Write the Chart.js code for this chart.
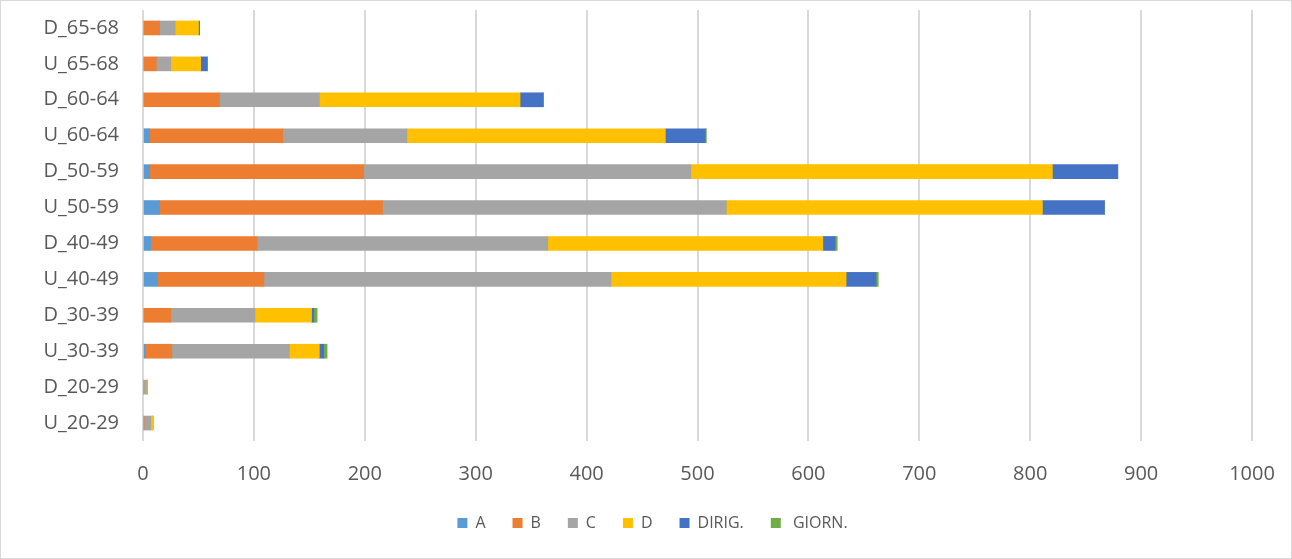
<!DOCTYPE html>
<html>
<head>
<meta charset="utf-8">
<script src="https://cdn.jsdelivr.net/npm/chart.js@4/dist/chart.umd.min.js"></script>
<style>
    html, body { margin: 0; padding: 0; background: #fff; }
    #wrap { position: relative; width: 1292px; height: 559px; box-sizing: border-box; border: 1px solid #d9d9d9; }
</style>
</head>
<body>
<div id="wrap"><canvas id="bar-chart" width="1290" height="557"></canvas></div>
<script>
// categories, top to bottom
var categories = ['D_65-68', 'U_65-68', 'D_60-64', 'U_60-64', 'D_50-59', 'U_50-59',
                  'D_40-49', 'U_40-49', 'D_30-39', 'U_30-39', 'D_20-29', 'U_20-29'];

// series values
var valuesA     = [0, 0, 0, 6, 6, 15, 7, 13, 0, 2, 0, 0];
var valuesB     = [15, 12, 69, 120, 193, 201, 96, 96, 25, 24, 0, 1];
var valuesC     = [14, 13, 90, 112, 295, 310, 262, 313, 76, 106, 3, 6];
var valuesD     = [21, 27, 181, 233, 326, 285, 248, 212, 51, 27, 1, 2];
var valuesDirig = [1, 6, 21, 36, 59, 56, 11, 27, 2, 4, 0, 0];
var valuesGiorn = [0, 0, 0, 1, 0, 0, 2, 2, 3, 3, 0, 0];

var seriesNames = ['A', 'B', 'C', 'D', 'DIRIG.', ' GIORN.'];

// x axis ticks
var xMin = 0;
var xMax = 1000;
var xStep = 100;

document.addEventListener("DOMContentLoaded", function() {
    var ctx = document.getElementById('bar-chart').getContext('2d');
    var textColor = '#595959';
    var font = "'Open Sans', 'Liberation Sans', sans-serif";

    function ds(label, data, color) {
        return {
            label: label,
            data: data,
            backgroundColor: color,
            borderWidth: 0,
            barThickness: 14
        };
    }

    // no extra padding from tick labels, the plot area is fixed by layout.padding
    function noPad(scale) {
        scale.paddingTop = 0;
        scale.paddingBottom = 0;
        scale.paddingLeft = 0;
        scale.paddingRight = 0;
    }

    // legend is centred on the whole frame, not on the plot box
    var legendShift = {
        id: 'legendShift',
        afterLayout: function(chart) {
            chart.legend.left += 26;
            chart.legend.right += 26;
        }
    };

    new Chart(ctx, {
        type: 'bar',
        data: {
            labels: categories,
            datasets: [
                ds(seriesNames[0], valuesA, '#5b9bd5'),
                ds(seriesNames[1], valuesB, '#ed7d31'),
                ds(seriesNames[2], valuesC, '#a5a5a5'),
                ds(seriesNames[3], valuesD, '#ffc000'),
                ds(seriesNames[4], valuesDirig, '#4472c4'),
                ds(seriesNames[5], valuesGiorn, '#70ad47')
            ]
        },
        plugins: [legendShift],
        options: {
            indexAxis: 'y',
            responsive: false,
            animation: false,
            devicePixelRatio: 1,
            layout: { padding: { top: 9, right: 39, bottom: 17, left: 0 } },
            plugins: {
                tooltip: { enabled: false },
                legend: {
                    position: 'bottom',
                    labels: {
                        color: textColor,
                        font: { family: font, size: 16 },
                        boxWidth: 10,
                        boxHeight: 10,
                        padding: 27
                    }
                }
            },
            scales: {
                x: {
                    stacked: true,
                    min: xMin,
                    max: xMax,
                    ticks: {
                        stepSize: xStep,
                        color: textColor,
                        font: { family: font, size: 20 },
                        padding: 21,
                        callback: function(value) { return String(value); }
                    },
                    grid: { color: '#d9d9d9', lineWidth: 2, drawTicks: false },
                    border: { display: false },
                    afterFit: function(scale) { scale.height = 47; noPad(scale); }
                },
                y: {
                    stacked: true,
                    ticks: {
                        color: textColor,
                        font: { family: font, size: 20 },
                        padding: 24,
                        autoSkip: false
                    },
                    grid: { display: false, drawTicks: false },
                    border: { display: false },
                    afterFit: function(scale) { scale.width = 142; noPad(scale); }
                }
            }
        }
    });
});
</script>
</body>
</html>
